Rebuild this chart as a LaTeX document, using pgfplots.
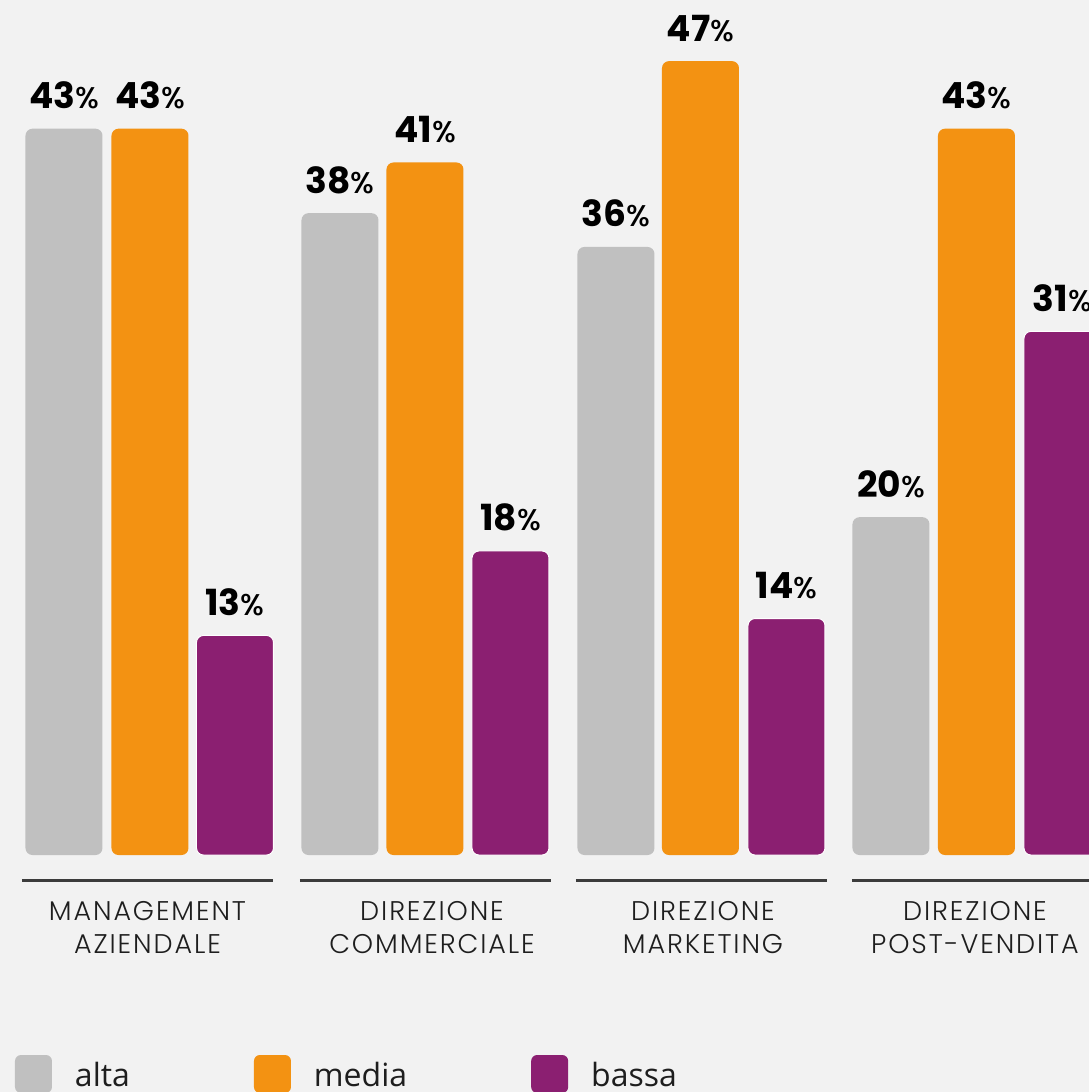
\documentclass[border=0pt]{standalone}
\usepackage{pgfplots}
\pgfplotsset{compat=1.18}
\usepackage{pgfplotstable}
\usepackage{fontspec}
\setmainfont{Poppins}
\newfontfamily\poplight{Poppins}[UprightFont=* Light]
\newfontfamily\popmed{Poppins}[UprightFont=* Medium]
\newfontfamily\legfont{Open Sans}
\definecolor{bgc}{HTML}{F2F2F2}
\definecolor{cgray}{HTML}{C0C0C0}
\definecolor{corange}{HTML}{F39212}
\definecolor{cpurple}{HTML}{8B1F71}
\definecolor{ctext}{HTML}{1E1E1E}
\definecolor{cline}{HTML}{3C3C3C}

\pgfplotstableread{
x y
64 43
340 38
616 36
891 20
}\alta
\pgfplotstableread{
x y
150 43
425 41
700.5 47
976.5 43
}\media
\pgfplotstableread{
x y
235 13
510.5 18
786.5 14
1062.5 31
}\bassa

\begin{document}
\begin{tikzpicture}
\begin{axis}[
  width=1089pt, height=1092pt, scale only axis,
  xmin=0, xmax=1089, ymin=-14.03, ymax=50.62,
  hide axis, clip=false,
  mybar/.style={ybar, bar shift=0pt, bar width=77, rounded corners=7pt,
    nodes near coords={{\fontsize{36}{36}\selectfont\bfseries\pgfmathprintnumber[assume math mode=true]{\pgfplotspointmeta}}{\popmed\fontsize{30}{30}\selectfont\%}},
    every node near coord/.style={anchor=base, yshift=20pt, inner sep=0pt, text=black},
    legend image code/.code={\fill[##1,draw=none,rounded corners=6pt] (0pt,-18pt) rectangle (37pt,20pt);}},
  legend style={at={(rel axis cs:0,0)}, anchor=south west, xshift=15pt, yshift=-1pt,
    draw=none, fill=none, inner sep=0pt, outer sep=0pt,
    font=\legfont\fontsize{32}{32}\selectfont\color{ctext},
    /tikz/every odd column/.append style={column sep=21pt},
    /tikz/every even column/.append style={column sep=122pt}},
  legend columns=-1,
]
\fill[bgc] (rel axis cs:0,0) rectangle (rel axis cs:1,1);
\coordinate (bl) at (rel axis cs:0,0);
\coordinate (tr) at (rel axis cs:1,1);
\addplot[mybar, fill=cgray, draw=none] table[x=x,y=y] {\alta};
\addplot[mybar, fill=corange, draw=none] table[x=x,y=y] {\media};
\addplot[mybar, fill=cpurple, draw=white, line width=1pt] table[x=x,y=y] {\bassa};
\legend{alta,media,bassa}
% group lines
\draw[cline, line width=3pt] (axis cs:22,-1.51) -- (axis cs:273,-1.51);
\draw[cline, line width=3pt] (axis cs:300,-1.51) -- (axis cs:551,-1.51);
\draw[cline, line width=3pt] (axis cs:576,-1.51) -- (axis cs:827,-1.51);
\draw[cline, line width=3pt] (axis cs:852,-1.51) -- (axis cs:1100,-1.51);
% category labels
\begin{scope}[every node/.style={anchor=base, inner sep=0pt, text=ctext, font=\poplight\fontsize{27}{27}\selectfont\addfontfeatures{LetterSpace=7}}]
\node at (axis cs:147.5,-3.89) {MANAGEMENT};
\node at (axis cs:147.5,-5.82) {AZIENDALE};
\node at (axis cs:432,-3.89) {DIREZIONE};
\node at (axis cs:432,-5.82) {COMMERCIALE};
\node at (axis cs:703,-3.89) {DIREZIONE};
\node at (axis cs:703,-5.82) {MARKETING};
\node at (axis cs:975,-3.89) {DIREZIONE};
\node at (axis cs:975,-5.82) {POST-VENDITA};
\end{scope}
\end{axis}
\pgfresetboundingbox
\path[use as bounding box] (bl) rectangle (tr);
\end{tikzpicture}
\end{document}
